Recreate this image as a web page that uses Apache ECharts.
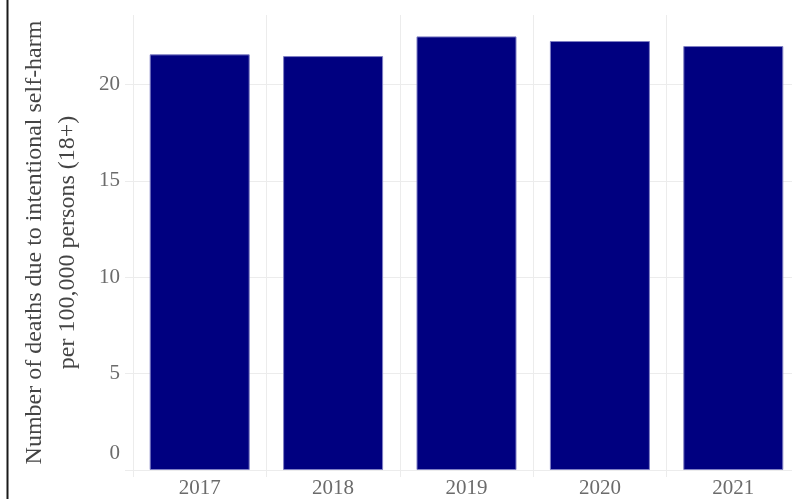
<!DOCTYPE html>
<html>
<head>
<meta charset="utf-8">
<script src="https://cdn.jsdelivr.net/npm/echarts@6/dist/echarts.min.js"></script>
<style>html,body{margin:0;padding:0;background:#fff;}#c{width:792px;height:499px;}</style>
</head>
<body>
<div id="c"></div>
<script>
const years = ['2017', '2018', '2019', '2020', '2021'];
const rates = [21.56, 21.47, 22.49, 22.25, 21.99];
const yTicks = [0, 5, 10, 15, 20];
const yMax = 23.6;
const yTitle = 'Number of deaths due to intentional self-harm\nper 100,000 persons (18+)';

const FONT = '"Liberation Serif", "DejaVu Serif", serif';
const GRID = '#ececec';
const chart = echarts.init(document.getElementById('c'), null, {renderer: 'canvas'});
chart.setOption({
  animation: false,
  backgroundColor: '#fff',
  grid: {left: 133, top: 15, bottom: 29, width: 667, containLabel: false, outerBoundsMode: 'none'},
  graphic: [{
    type: 'line', shape: {x1: 7.5, y1: 0, x2: 7.5, y2: 499},
    style: {stroke: '#1a1a1a', lineWidth: 2}
  }],
  xAxis: {
    type: 'category',
    data: years,
    axisLine: {show: false},
    axisTick: {show: true, length: 7, lineStyle: {color: GRID}},
    splitLine: {show: true, lineStyle: {color: GRID, width: 1}},
    axisLabel: {color: '#6b6b6b', fontFamily: FONT, fontSize: 21, margin: 8}
  },
  yAxis: {
    type: 'value',
    min: 0, max: yMax, interval: 5,
    name: yTitle,
    nameLocation: 'middle',
    nameGap: 49,
    nameTextStyle: {color: '#444', fontFamily: FONT, fontSize: 24, lineHeight: 33},
    axisLine: {show: false},
    axisTick: {show: true, length: 8, lineStyle: {color: GRID}, customValues: yTicks},
    splitLine: {show: true, lineStyle: {color: [GRID, GRID, GRID, GRID, GRID, 'rgba(0,0,0,0)']}},
    axisLabel: {
      customValues: yTicks,
      color: '#6b6b6b', fontFamily: FONT, fontSize: 21, margin: 13,
      formatter: function (v) { return v === 0 ? '{z|0}' : String(v); },
      rich: {z: {color: '#6b6b6b', fontFamily: FONT, fontSize: 21, padding: [0, 0, 34, 0]}}
    }
  },
  series: [{
    type: 'bar',
    data: rates,
    barWidth: 100,
    itemStyle: {color: '#000080', borderColor: '#7f7fc4', borderWidth: 1}
  }]
});
</script>
</body>
</html>
